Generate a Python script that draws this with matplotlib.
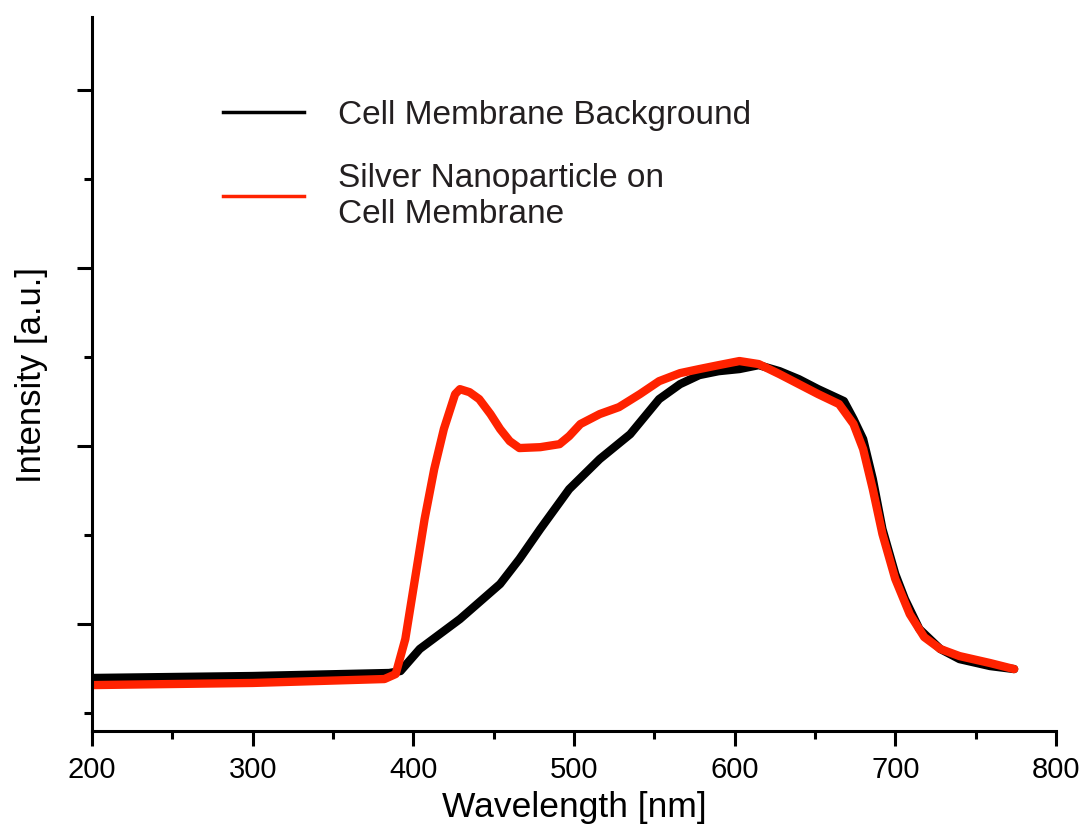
import matplotlib.pyplot as plt
from matplotlib.lines import Line2D

plt.rcParams['font.family'] = ['Liberation Sans', 'DejaVu Sans']

# ---------------- DATA ----------------
wl_bg = [200, 300, 385, 392, 404, 429, 454, 466, 479, 497, 516, 535, 553, 566,
         578, 590, 603, 615, 628, 640, 652, 668, 674, 680, 686, 692, 700, 706,
         715, 728, 740, 759, 774]
int_bg = [0.697, 0.708, 0.725, 0.736, 0.860, 1.028, 1.225, 1.365, 1.534, 1.758,
          1.927, 2.067, 2.264, 2.348, 2.399, 2.421, 2.433, 2.455, 2.421, 2.376,
          2.320, 2.253, 2.152, 2.039, 1.815, 1.534, 1.281, 1.140, 0.972, 0.860,
          0.803, 0.764, 0.747]

wl_ag = [200, 300, 382, 389, 395, 401, 407, 413, 419, 426, 429, 435, 441, 448,
         454, 460, 466, 479, 491, 497, 504, 516, 528, 541, 553, 566, 578, 590,
         603, 615, 628, 640, 652, 665, 674, 680, 686, 692, 700, 709, 718, 728,
         740, 759, 774]
int_ag = [0.657, 0.669, 0.691, 0.719, 0.916, 1.253, 1.590, 1.871, 2.096, 2.292,
          2.320, 2.303, 2.264, 2.180, 2.096, 2.028, 1.989, 1.994, 2.011, 2.056,
          2.124, 2.180, 2.219, 2.292, 2.365, 2.410, 2.433, 2.455, 2.478, 2.461,
          2.404, 2.348, 2.292, 2.236, 2.124, 1.983, 1.758, 1.506, 1.253, 1.056,
          0.927, 0.860, 0.820, 0.781, 0.747]

labels = ["Cell Membrane Background", "Silver Nanoparticle on\nCell Membrane"]
text_color = "#231f20"
red = "#ff2200"

# ---------------- FIGURE ----------------
fig = plt.figure(figsize=(10.83, 8.29), dpi=100)
ax = fig.add_axes([0.085, 0.117, 0.89, 0.861])

ax.plot(wl_bg, int_bg, color="black", lw=6, solid_capstyle="round",
        solid_joinstyle="round")
ax.plot(wl_ag, int_ag, color=red, lw=6, solid_capstyle="round",
        solid_joinstyle="round")

ax.set_xlim(200, 800)
ax.set_ylim(0.399, 4.41)
ax.set_xticks(range(200, 801, 100))
ax.set_xticks(range(250, 800, 100), minor=True)
ax.set_yticks([1, 2, 3, 4])
ax.set_yticks([0.5, 1.5, 2.5, 3.5], minor=True)
ax.set_yticklabels([])

for s in ["top", "right"]:
    ax.spines[s].set_visible(False)
for s in ["left", "bottom"]:
    ax.spines[s].set_linewidth(2.2)

ax.tick_params(which="major", length=10.5, width=2.2, direction="out",
               labelsize=21, pad=7)
ax.tick_params(which="minor", length=5.8, width=2.2, direction="out")

ax.set_xlabel("Wavelength [nm]", fontsize=25.5, labelpad=5)
ax.set_ylabel("Intensity [a.u.]", fontsize=25, labelpad=14)

handles = [Line2D([], [], color="black", lw=2.5),
           Line2D([], [], color=red, lw=2.5)]
leg = ax.legend(handles, labels, loc="upper left", bbox_to_anchor=(0.105, 0.927),
                frameon=False, fontsize=24, handlelength=2.43, handletextpad=1.0,
                labelspacing=0.96)
for t in leg.get_texts():
    t.set_color(text_color)

fig.savefig("out.png", dpi=100)
